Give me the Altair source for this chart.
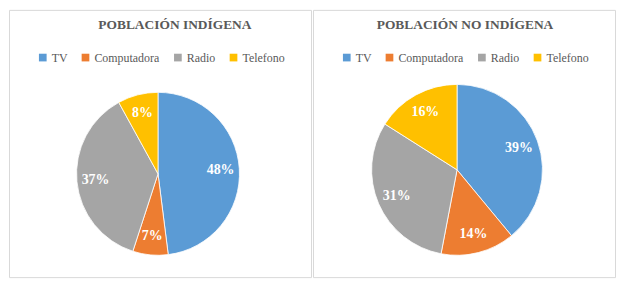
import altair as alt
import pandas as pd

categories = ["TV", "Computadora", "Radio", "Telefono"]
colors = ["#5B9BD5", "#ED7D31", "#A5A5A5", "#FFC000"]
indigena = [48, 7, 37, 8]
no_indigena = [39, 14, 31, 16]
titles = ["POBLACIÓN INDÍGENA", "POBLACIÓN NO INDÍGENA"]

FONT = "Liberation Serif"


def panel(values, title, cx, cy, r, tx, lx):
    df = pd.DataFrame({
        "cat": categories,
        "value": values,
        "order": list(range(len(categories))),
        "label": [f"{v}%" for v in values],
    })
    base = alt.Chart(df).encode(
        theta=alt.Theta("value:Q", stack=True),
        order=alt.Order("order:Q"),
        color=alt.Color(
            "cat:N",
            sort=categories,
            scale=alt.Scale(domain=categories, range=colors),
            legend=alt.Legend(
                orient="none", legendX=lx, legendY=42, direction="horizontal",
                title=None, symbolType="square", symbolSize=60,
                symbolStrokeWidth=0, labelFont=FONT, labelFontSize=12,
                labelColor="#595959", columnPadding=12, symbolOffset=0,
                labelOffset=3,
            ),
        ),
    )
    arc = base.mark_arc(outerRadius=r, stroke="#ffffff", strokeWidth=0.8).encode(
        x=alt.value(cx), y=alt.value(cy)
    )
    text = base.mark_text(
        radius=r * 0.77, font=FONT, fontSize=14, fontWeight="bold"
    ).encode(
        x=alt.value(cx), y=alt.value(cy), text="label:N", color=alt.value("white")
    )
    ttl = alt.Chart(pd.DataFrame({"t": [title]})).mark_text(
        font=FONT, fontSize=13.5, fontWeight="bold", color="#595959",
        baseline="middle", align="center"
    ).encode(x=alt.value(tx), y=alt.value(15), text="t:N")
    return alt.layer(arc, text, ttl).properties(width=304, height=269)


left = panel(indigena, titles[0], 150, 165, 82, 167, 28)
right = panel(no_indigena, titles[1], 145, 161, 86, 153, 28)

chart = alt.hconcat(left, right, spacing=0).resolve_scale(
    color="independent"
).resolve_legend(color="independent").properties(padding=0).configure_view(
    stroke="#d9d9d9", strokeWidth=1
)

chart.save("out.html", embed_options={"renderer": "svg", "actions": False})
